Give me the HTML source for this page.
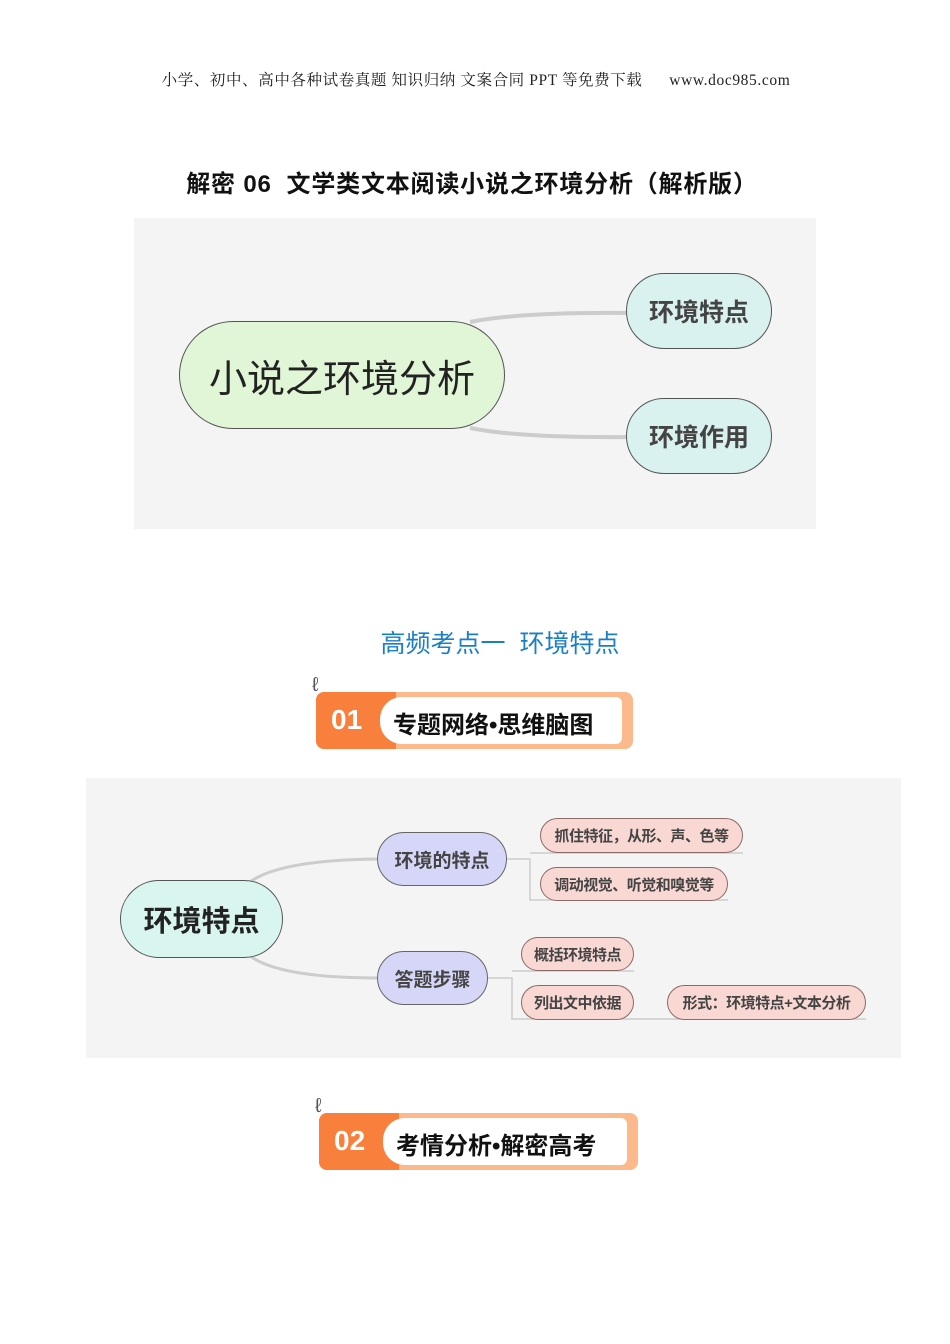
<!DOCTYPE html>
<html><head><meta charset="utf-8"><style>
body{margin:0;width:950px;height:1344px;background:#fff;position:relative;font-family:"Liberation Sans","Noto Sans CJK SC",sans-serif;overflow:hidden}
.a{position:absolute}
.n{position:absolute;box-sizing:border-box;border:1.5px solid #555;display:flex;align-items:center;justify-content:center;font-weight:bold;color:#444;white-space:nowrap}
.p{background:#f9d8d4;border-radius:18px;font-size:15px;border-color:#8a6a66;letter-spacing:-0.5px}
.b{background:#d6d7f8;border-radius:27px;font-size:19px;border-color:#666}
</style></head><body>
<div class="a" style="top:68px;left:0;width:952px;text-align:center;font-family:'Liberation Serif','Noto Serif CJK SC',serif;font-size:15.5px;color:#222;letter-spacing:0.6px">小学、初中、高中各种试卷真题&nbsp;知识归纳&nbsp;文案合同&nbsp;PPT 等免费下载 &nbsp;&nbsp;&nbsp;&nbsp; www.doc985.com</div>
<div class="a" style="top:164px;left:0;width:944px;text-align:center;font-size:24px;font-weight:bold;color:#111;letter-spacing:0.8px">解密 06 &nbsp;文学类文本阅读小说之环境分析（解析版）</div>

<div class="a" style="left:134px;top:218px;width:682px;height:311px;background:#f4f4f4"></div>
<svg class="a" style="left:0;top:0" width="950" height="1344">
<path d="M470 322 Q520 312 628 313" stroke="#ccc" stroke-width="4" fill="none"/>
<path d="M470 428 Q520 438 628 437" stroke="#ccc" stroke-width="4" fill="none"/>
</svg>
<div class="n" style="left:179px;top:321px;width:326px;height:108px;border-radius:54px;background:#e1f5d7;font-size:38px;font-weight:normal;color:#222">小说之环境分析</div>
<div class="n" style="left:626px;top:273px;width:146px;height:76px;border-radius:38px;background:#d9f2ef;font-size:25px">环境特点</div>
<div class="n" style="left:626px;top:398px;width:146px;height:76px;border-radius:38px;background:#d9f2ef;font-size:25px">环境作用</div>

<div class="a" style="top:624px;left:0;width:1000px;text-align:center;font-size:25px;color:#1a7fc4">高频考点一 &nbsp;环境特点</div>

<div class="a" style="left:316px;top:692px;width:317px;height:57px;background:#fbb98c;border-radius:8px"></div>
<div class="a" style="left:316px;top:692px;width:80px;height:57px;background:#f97f3c;border-radius:8px 0 0 8px"></div>
<div class="a" style="left:380px;top:697px;width:242px;height:47px;background:#fff;border-radius:22px 6px 6px 22px"></div>
<div class="a" style="left:331px;top:704px;font-size:28px;font-weight:bold;color:#fff">01</div>
<div class="a" style="left:393px;top:705px;font-size:24px;font-weight:bold;color:#111">专题网络•思维脑图</div>
<div class="a" style="left:312px;top:674px;font-size:20px;color:#555">ℓ</div>

<div class="a" style="left:86px;top:778px;width:815px;height:280px;background:#f4f4f4"></div>
<svg class="a" style="left:0;top:0" width="950" height="1344">
<g stroke="#ccc" stroke-width="3" fill="none">
<path d="M250 882 Q280 860 378 859"/>
<path d="M250 956 Q280 978 378 978"/>
</g>
<g stroke="#ccc" stroke-width="1.5" fill="none">
<path d="M507 859 H530 V900 H728"/><path d="M530 853 H743"/>
<path d="M488 978 H512 V1019 H866"/><path d="M512 971 H634"/>
</g>
</svg>
<div class="n" style="left:120px;top:880px;width:163px;height:78px;border-radius:39px;background:#d9f5f0;font-size:29px;color:#222">环境特点</div>
<div class="n b" style="left:377px;top:832px;width:130px;height:54px">环境的特点</div>
<div class="n b" style="left:377px;top:951px;width:111px;height:54px">答题步骤</div>
<div class="n p" style="left:540px;top:818px;width:203px;height:35px">抓住特征，从形、声、色等</div>
<div class="n p" style="left:540px;top:867px;width:188px;height:34px">调动视觉、听觉和嗅觉等</div>
<div class="n p" style="left:521px;top:937px;width:113px;height:34px">概括环境特点</div>
<div class="n p" style="left:521px;top:985px;width:113px;height:35px">列出文中依据</div>
<div class="n p" style="left:667px;top:985px;width:199px;height:35px">形式：环境特点+文本分析</div>

<div class="a" style="left:319px;top:1113px;width:319px;height:57px;background:#fbb98c;border-radius:8px"></div>
<div class="a" style="left:319px;top:1113px;width:80px;height:57px;background:#f97f3c;border-radius:8px 0 0 8px"></div>
<div class="a" style="left:383px;top:1118px;width:244px;height:47px;background:#fff;border-radius:22px 6px 6px 22px"></div>
<div class="a" style="left:334px;top:1125px;font-size:28px;font-weight:bold;color:#fff">02</div>
<div class="a" style="left:396px;top:1126px;font-size:24px;font-weight:bold;color:#111">考情分析•解密高考</div>
<div class="a" style="left:315px;top:1095px;font-size:20px;color:#555">ℓ</div>
</body></html>
